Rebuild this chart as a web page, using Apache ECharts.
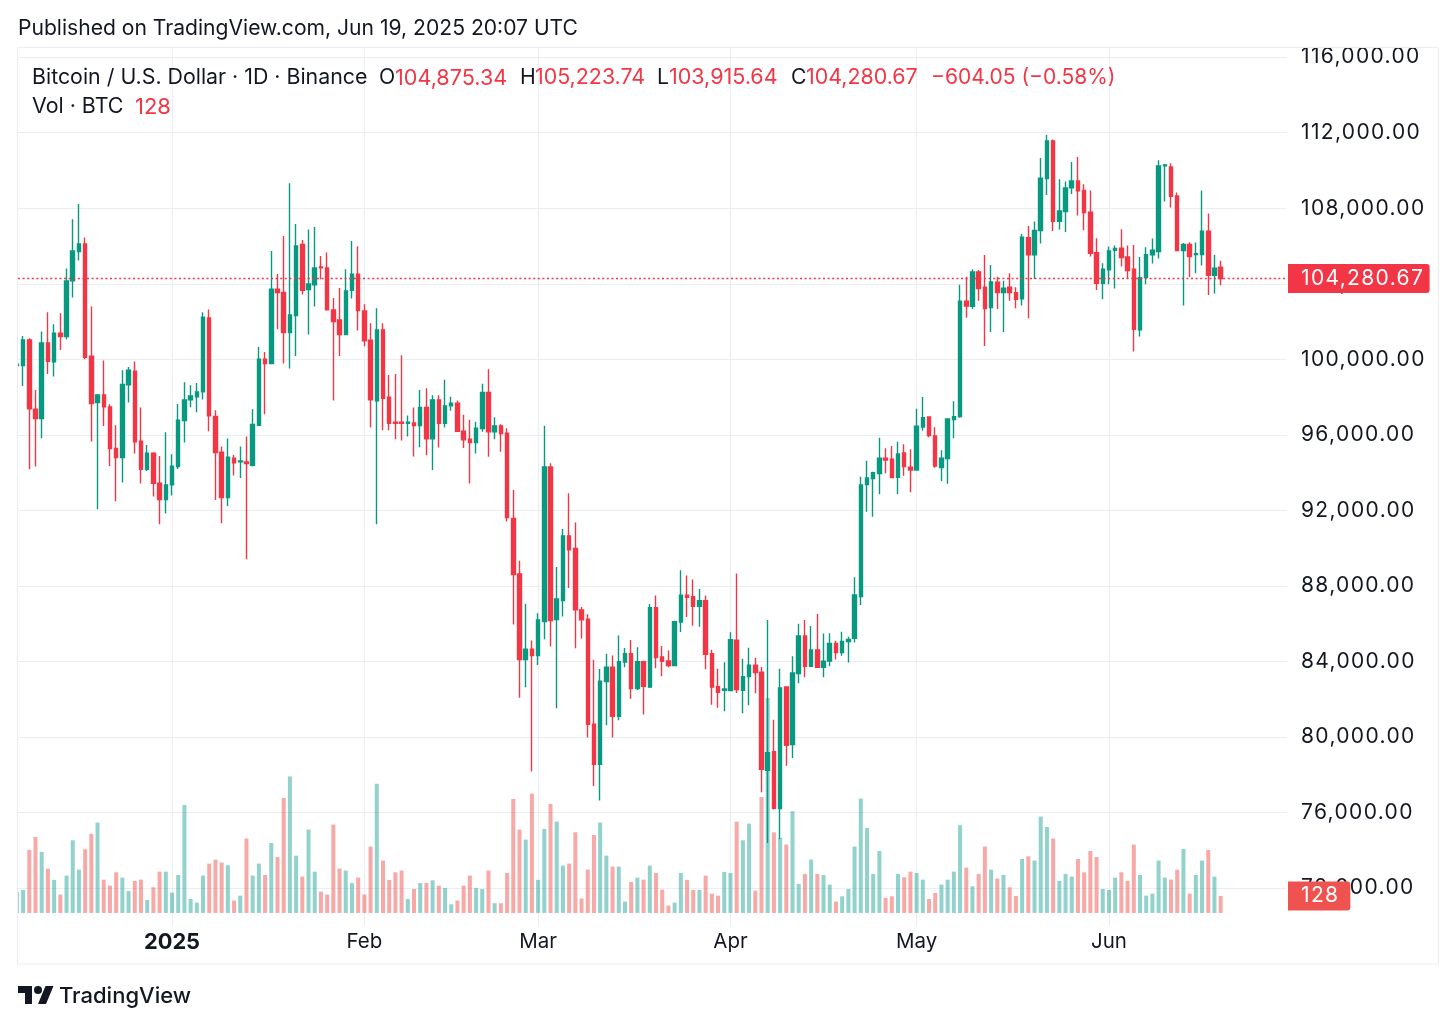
<!DOCTYPE html>
<html>
<head>
<meta charset="utf-8">
<style>html,body{margin:0;padding:0;background:#fff}#c{width:1456px;height:1026px}</style>
<script src="https://cdn.jsdelivr.net/npm/echarts@6/dist/echarts.min.js"></script>
</head>
<body>
<div id="c"></div>
<script>
// Daily candles [open, close, low, high], first row = 2024-12-07
const dec24 = [[99669,99740,99600,99800],[99669,101028,98593,101240],[101028,97375,94180,101117],[97357,96863,94321,98381],[96863,100870,95822,101470],[100870,99899,99228,102493],[99864,101381,99087,101858],[101381,101205,100499,102440],[101205,104153,101064,104806],[104153,105741,103270,107418],[105706,106112,105229,108230],[106112,100111,100005,106447],[100164,97657,95645,102793],[97710,98116,92062,98169],[98116,97481,96475,99934],[97481,95275,94357,97622],[95275,94798,92486,96510],[94798,98663,93474,99422],[98646,99422,97710,99599],[99369,95628,95010,99881],[95663,94180,93421,97446],[94180,95027,94092,95469],[95027,93439,92733,95080],[93439,92574,91268,94886],[92574,93351,91833,96139]];
const jan25 = [[93351,94339,92786,94975],[94321,96775,94198,97640],[96757,97851,95592,98787],[97851,98063,97463,98628],[98010,98275,97198,98752],[98275,102229,97869,102493],[102193,97004,96192,102635],[96969,95063,92556,97304],[95080,92680,91321,95380],[92680,94816,92239,95804],[94763,94516,93845,94939],[94569,94622,93721,95380],[94569,94480,89415,95910],[94392,96545,94321,97357],[96510,100005,96475,100658],[100005,99775,97093,100393],[99775,103711,99758,105741],[103711,103535,101593,104523],[103535,101417,99775,106535],[101417,102352,99511,109324],[102317,106006,100181,107171],[106076,103658,103429,106323],[103694,103994,101311,106871],[103941,104841,102793,107012],[104894,104841,104241,105476],[104841,102617,102582,105653],[102617,101999,97816,103252],[102087,101311,100181,103782],[101311,103623,101293,104770],[103658,104506,103217,106271],[104506,102582,101523,105988]];
const feb25 = [[102564,100976,100693,102917],[101011,97851,96387,101911],[97799,101558,91268,102705],[101558,97940,96245,101911],[97993,96616,96245,99175],[96669,96616,95769,99228],[96669,96616,95698,100217],[96616,96669,95910,97022],[96634,96492,94851,97446],[96494,97447,95347,98382],[97447,95788,94923,98471],[95788,97853,94146,98100],[97853,96617,95329,98100],[96617,97535,96388,98912],[97535,97676,97271,98012],[97676,96194,96159,97818],[96194,95735,95311,97059],[95770,95594,93423,96794],[95594,96353,95011,96688],[96335,98241,96159,98700],[98241,96159,94835,99477],[96159,96476,95770,96935],[96476,96070,95100,96565],[96088,91623,91411,96353],[91570,88604,85957,93087],[88640,84104,82074,89328],[84104,84651,82639,87051],[84651,84315,78173,85110]];
const mar25 = [[84315,86204,83821,86557],[86116,94305,85180,96476],[94305,86169,84792,94499],[86222,87316,81527,89010],[87228,90652,86380,91022],[90652,89910,87898,92911],[89981,86733,84704,91358],[86733,86204,85216,86892],[86239,80680,79974,86504],[80680,78562,77414,84086],[78562,82956,76638,83609],[82939,83698,80627,84404],[83698,81103,79974,84315],[81098,83993,80887,85370],[83975,84417,83693,84717],[84417,82563,82034,85140],[82563,83993,82493,84752],[83993,82687,81187,84046],[82652,86852,82599,87047],[86852,84205,83640,87488],[84240,84011,83216,84823],[84028,83781,83693,84576],[83781,86111,83764,86164],[86093,87505,85564,88829],[87505,87400,86358,88547],[87435,86923,85899,88335],[86923,87223,85846,87841],[87223,84381,83587,87488],[84417,82652,81716,84628],[82669,82369,81557,83622],[82475,82546,81363,83958]];
const apr25 = [[82458,85158,82422,85546],[85123,82510,82334,88653],[82475,83199,81257,84152],[83199,83799,81681,84734],[83799,83411,82316,84187],[83428,78292,77074,83711],[78239,79175,74391,86199],[79228,76227,76157,80922],[76209,82599,74603,83622],[82652,79563,78486,82687],[79598,83393,78892,84275],[83358,85352,82846,86005],[85352,83746,83164,86199],[83746,84611,83711,85882],[84611,83693,83675,86517],[83693,84011,83164,85476],[84030,84950,83750,85492],[84950,84470,84100,85100],[84470,85060,84300,85580],[85060,85170,83950,85315],[85227,87522,85000,88457],[87433,93346,86992,93787],[93364,93717,91934,94635],[93682,93999,91669,94052],[93946,94758,92852,95853],[94758,94670,93964,95288],[94705,93735,93699,95411],[93752,94988,92852,95641],[95041,94317,93840,95500],[94282,94140,92958,95235]];
const may25 = [[94140,96453,94105,97388],[96417,96912,96223,98006],[96947,95958,95870,96964],[95941,94352,94264,96400],[94264,94758,93558,95182],[94740,96841,93417,96859],[96806,96965,95817,97776],[96965,103071,96912,103954],[103071,102824,102207,104377],[102807,104625,102665,104766],[104625,103742,103107,104730],[103813,102683,100706,105525],[102736,104095,101448,104995],[104077,103530,102665,104377],[103530,103760,101448,104166],[103813,103530,103107,104554],[103530,103177,102701,103813],[103199,106464,102846,106640],[106446,105528,102175,107064],[105528,106817,104258,107293],[106817,109588,106129,110665],[109570,111565,108705,111882],[111565,107311,106799,111635],[107311,107858,106870,109535],[107823,109076,106746,109411],[109076,109447,108758,110453],[109447,108917,107611,110718],[108935,107770,106835,109270],[107788,105617,105440,108935],[105652,104028,103675,106411],[104028,104770,103181,105087]];
const jun25 = [[104734,105740,103975,105970],[105776,105864,103746,106023],[105882,105387,104911,106888],[105423,104699,104258,106023],[104770,101593,100410,106058],[101557,104328,101204,105423],[104328,105546,103975,105934],[105528,105776,105070,106393],[105705,110241,105334,110541],[110241,110294,108352,110347],[110188,108635,108035,110382],[108653,105758,105740,108829],[105758,106076,102846,106164],[106076,105440,104364,106199],[105546,105599,104558,106182],[105546,106782,104964,108935],[106782,104452,103410,107717],[104452,104822,103481,105529],[104875.34,104280.67,103915.64,105223.74]];

// Daily volume, same order as the candles
const volDec = [158,173,473,570,458,333,248,138,280,545,325,478,593,678,250,205,305,265,165,240,250,98,193,310,310];
const volJan = [153,285,810,105,78,280,370,400,378,358,93,130,558,280,370,285,525,420,863,1023,430,273,625,310,160,138,663,333,318,225,265];
const volFeb = [138,498,970,393,248,305,318,105,180,225,225,245,205,188,65,93,205,280,188,180,318,73,73,300,855,625,550,895];
const volMar = [248,630,818,685,355,370,605,108,325,585,678,430,348,348,85,233,265,250,355,300,175,55,78,300,248,173,173,280,145,130,308];
const volApr = [300,685,545,670,168,870,1613,605,563,513,763,218,293,400,293,285,213,85,125,180,498,858,638,293,465,113,125,293,268,310];
const volMay = [300,250,105,150,213,250,310,658,340,200,293,498,325,258,285,193,128,405,425,393,723,645,558,240,293,273,405,305,465,420,180];
const volJun = [173,265,305,240,513,285,130,145,393,265,250,325,480,145,285,393,473,273,128];

// Axis labels; x is in days counted from 2025-01-01
const firstDay = -25;
const monthDays = [0, 31, 59, 90, 120, 151];
const monthLabels = ['2025', 'Feb', 'Mar', 'Apr', 'May', 'Jun'];
const priceTicks = [72000,76000,80000,84000,88000,92000,96000,100000,104000,108000,112000,116000];
const lastPrice = 104280.67;
const lastVolume = 128;

const UP = '#089981', DOWN = '#f23645';
const INK = '#131722';
const GRID = '#ebedf0';
const FONT = 'Inter, "Noto Sans", sans-serif';

// The price scale text is letter-spaced in the reference
const nativeFillText = CanvasRenderingContext2D.prototype.fillText;
CanvasRenderingContext2D.prototype.fillText = function (text, x, y, w) {
  const spaced = /(^|\s)21px/.test(this.font) && /^[\d,.]+$/.test(String(text));
  if (spaced) this.letterSpacing = '1.35px';
  const r = w === undefined ? nativeFillText.call(this, text, x, y) : nativeFillText.call(this, text, x, y, w);
  if (spaced) this.letterSpacing = '0px';
  return r;
};

const candles = [].concat(dec24, jan25, feb25, mar25, apr25, may25, jun25);
const volumes = [].concat(volDec, volJan, volFeb, volMar, volApr, volMay, volJun);
const candleData = candles.map((r, i) => [firstDay + i, r[0], r[1], r[2], r[3]]);
const volumeData = volumes.map((v, i) => ({
  value: [firstDay + i, v],
  itemStyle: { color: candles[i][1] >= candles[i][0] ? 'rgba(38,166,154,0.5)' : 'rgba(239,83,80,0.5)' }
}));
const fmtPrice = v => v.toLocaleString('en-US', { minimumFractionDigits: 2, maximumFractionDigits: 2 });

function txt(x, y, text, fill, size, weight) {
  return { type: 'text', x, y, z: 50, silent: true,
    style: { text, fill: fill || INK, font: (weight || 400) + ' ' + (size || 21.2) + 'px ' + FONT, textVerticalAlign: 'middle' } };
}

const chart = echarts.init(document.getElementById('c'), null, { renderer: 'canvas' });
chart.setOption({
  animation: false,
  backgroundColor: '#fff',
  grid: { left: 18, top: 47.7, width: 1269, height: 878.2, containLabel: false },
  xAxis: {
    type: 'value', min: -24.82, max: 179.69,
    axisLine: { show: false },
    axisTick: { show: false, customValues: monthDays },
    splitLine: { show: true, lineStyle: { color: GRID, width: 1.2 } },
    axisLabel: {
      customValues: monthDays, margin: 5.5, color: INK, fontFamily: FONT, fontSize: 20.5,
      formatter: v => { const i = monthDays.indexOf(v); return i === 0 ? '{b|' + monthLabels[i] + '}' : monthLabels[i]; },
      rich: { b: { fontWeight: 700, fontSize: 21.8, fontFamily: FONT, color: INK } }
    }
  },
  yAxis: [
    {
      type: 'value', position: 'right', min: 70000, max: 116500, scale: true,
      axisLine: { show: false },
      axisTick: { show: false, customValues: priceTicks },
      splitLine: { show: true, lineStyle: { color: GRID, width: 1.2 } },
      axisLabel: { customValues: priceTicks, margin: 14, color: INK, fontFamily: FONT, fontSize: 21, padding: [3, 0, 0, 0], formatter: fmtPrice }
    },
    {
      type: 'value', min: -97, max: 6490, show: false,
      axisLine: { show: false }, axisTick: { show: false }, axisLabel: { show: false }, splitLine: { show: false }
    }
  ],
  series: [
    {
      type: 'bar', name: 'Vol', xAxisIndex: 0, yAxisIndex: 1, barWidth: 4, z: 1,
      data: volumeData, silent: true,
      markLine: {
        silent: true, symbol: 'none', z: 20,
        lineStyle: { color: 'rgba(0,0,0,0)', width: 0 },
        label: { show: true, position: 'end', distance: 1, formatter: String(lastVolume), color: '#fff',
          backgroundColor: '#ef5350', fontFamily: FONT, fontSize: 21, lineHeight: 21,
          padding: [4, 15, 4, 13], borderRadius: [0, 3, 3, 0] },
        data: [{ yAxis: lastVolume }]
      }
    },
    {
      type: 'candlestick', name: 'BTCUSD', xAxisIndex: 0, yAxisIndex: 0, barWidth: 4, z: 3,
      data: candleData, silent: true,
      itemStyle: { color: UP, color0: DOWN, borderColor: UP, borderColor0: DOWN, borderWidth: 1.4 },
      markLine: {
        silent: true, symbol: 'none', z: 21,
        lineStyle: { color: DOWN, type: [2, 2.6], width: 1.3 },
        label: { show: true, position: 'end', distance: 1, formatter: fmtPrice(lastPrice), color: '#fff',
          backgroundColor: DOWN, fontFamily: FONT, fontSize: 21, lineHeight: 21,
          padding: [4, 19, 4, 13], borderRadius: [0, 3, 3, 0] },
        data: [{ yAxis: lastPrice }]
      }
    }
  ],
  graphic: [
    // Marks of the first, partly hidden day end at the frame, as in the reference
    { type: 'rect', z: 40, silent: true, shape: { x: 0, y: 48, width: 17.5, height: 915 }, style: { fill: '#fff' } },
    { type: 'rect', z: 45, silent: true, shape: { x: 17.5, y: 47.5, width: 1421, height: 916.5 }, style: { fill: 'none', stroke: GRID, lineWidth: 1.2 } },
    txt(18, 29, 'Published on TradingView.com, Jun 19, 2025 20:07 UTC', INK, 21.1),
    txt(32, 78, 'Bitcoin / U.S. Dollar · 1D · Binance', INK, 21.35),
    txt(379, 78, 'O'), txt(395, 78, '104,875.34', DOWN, 21.6),
    txt(520, 78, 'H'), txt(535, 78, '105,223.74', DOWN, 21.4),
    txt(657, 78, 'L'), txt(669, 78, '103,915.64', DOWN, 21.5),
    txt(791, 78, 'C'), txt(806, 78, '104,280.67', DOWN, 21.4),
    txt(931, 78, '−604.05 (−0.58%)', DOWN, 21),
    txt(32, 107, 'Vol · BTC', INK, 21.4), txt(135, 107, '128', DOWN, 22),
    { type: 'polygon', silent: true, z: 50, shape: { points: [[18,986],[32,986],[32,1004],[25,1004],[25,993],[18,993]] }, style: { fill: INK } },
    { type: 'polygon', silent: true, z: 50, shape: { points: [[46,1004],[38,1004],[45.5,986],[53.5,986]] }, style: { fill: INK } },
    { type: 'circle', silent: true, z: 50, shape: { cx: 38, cy: 990, r: 4 }, style: { fill: INK } },
    txt(59, 996, 'TradingView', INK, 22, 500)
  ]
});
</script>
</body>
</html>
